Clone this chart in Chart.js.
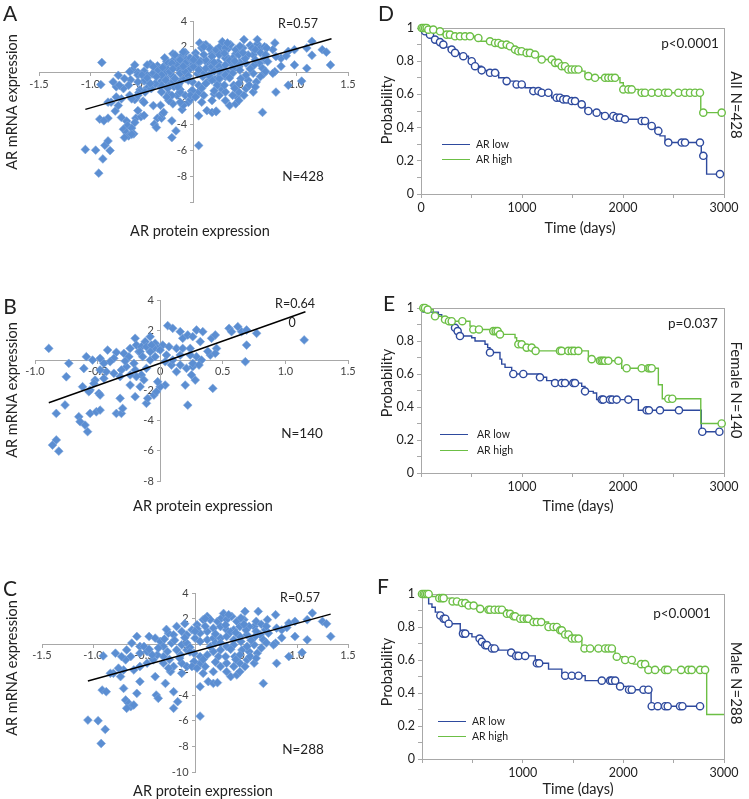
<!DOCTYPE html>
<html>
<head>
<meta charset="utf-8">
<script src="https://cdn.jsdelivr.net/npm/chart.js@4.4.0/dist/chart.umd.min.js"></script>
<style>
body { margin: 0; background: #fff; width: 749px; height: 799px; position: relative; overflow: hidden; font-family: Lato, "Open Sans", sans-serif; color: #222; }
canvas { position: absolute; }
.t { position: absolute; white-space: nowrap; transform: translate(-50%, -50%); }
.rl { transform: translate(-50%, -50%) rotate(-90deg); }
.rr { transform: translate(-50%, -50%) rotate(90deg); }
.lg { position: absolute; height: 0; border-top: 1.5px solid; width: 28px; }
.lt { position: absolute; font-size: 10.5px; transform: translateY(-50%); }
</style>
</head>
<body>
<canvas id="cA" width="375" height="260" style="left:0;top:0"></canvas>
<canvas id="cB" width="375" height="260" style="left:0;top:260px"></canvas>
<canvas id="cC" width="375" height="279" style="left:0;top:520px"></canvas>
<canvas id="cD" width="374" height="260" style="left:375px;top:0"></canvas>
<canvas id="cE" width="374" height="260" style="left:375px;top:260px"></canvas>
<canvas id="cF" width="374" height="279" style="left:375px;top:520px"></canvas>

<!-- panel letters -->
<div class="t" style="left:10px;top:12px;font-size:21px">A</div>
<div class="t" style="left:10px;top:305px;font-size:21px">B</div>
<div class="t" style="left:10px;top:587px;font-size:21px">C</div>
<div class="t" style="left:386px;top:12px;font-size:21px">D</div>
<div class="t" style="left:389px;top:302px;font-size:21px">E</div>
<div class="t" style="left:383px;top:585px;font-size:21px">F</div>

<!-- scatter texts -->
<div class="t rl" style="left:11px;top:102px;font-size:14.5px">AR mRNA expression</div>
<div class="t" style="left:200px;top:230px;font-size:14.5px">AR protein expression</div>
<div class="t" style="left:298px;top:23px;font-size:12.5px">R=0.57</div>
<div class="t" style="left:303px;top:176px;font-size:13.5px">N=428</div>

<div class="t rl" style="left:11px;top:390px;font-size:14.5px">AR mRNA expression</div>
<div class="t" style="left:203px;top:505px;font-size:14.5px">AR protein expression</div>
<div class="t" style="left:295px;top:303px;font-size:12.5px">R=0.64</div>
<div class="t" style="left:292px;top:322px;font-size:12.5px">0</div>
<div class="t" style="left:302px;top:433px;font-size:13.5px">N=140</div>

<div class="t rl" style="left:11px;top:668px;font-size:14.5px">AR mRNA expression</div>
<div class="t" style="left:203px;top:790px;font-size:14.5px">AR protein expression</div>
<div class="t" style="left:300px;top:597px;font-size:12.5px">R=0.57</div>
<div class="t" style="left:303px;top:749px;font-size:13.5px">N=288</div>

<!-- survival texts -->
<div class="t rl" style="left:386px;top:110px;font-size:14.5px">Probability</div>
<div class="t" style="left:580px;top:227px;font-size:14.5px">Time (days)</div>
<div class="t" style="left:690px;top:43px;font-size:13.5px">p&lt;0.0001</div>
<div class="t rr" style="left:737px;top:105px;font-size:15px">All N=428</div>
<div class="lg" style="left:442px;top:144px;border-color:#2e4a9e"></div>
<div class="lt" style="left:476px;top:144px">AR low</div>
<div class="lg" style="left:442px;top:159px;border-color:#6cbf45"></div>
<div class="lt" style="left:476px;top:159px">AR high</div>

<div class="t rl" style="left:386px;top:383px;font-size:14.5px">Probability</div>
<div class="t" style="left:578px;top:505px;font-size:14.5px">Time (days)</div>
<div class="t" style="left:693px;top:323px;font-size:13.5px">p=0.037</div>
<div class="t rr" style="left:737px;top:390px;font-size:15px">Female N=140</div>
<div class="lg" style="left:440px;top:434px;border-color:#2e4a9e"></div>
<div class="lt" style="left:477px;top:434px">AR low</div>
<div class="lg" style="left:440px;top:450px;border-color:#6cbf45"></div>
<div class="lt" style="left:477px;top:450px">AR high</div>

<div class="t rl" style="left:386px;top:672px;font-size:14.5px">Probability</div>
<div class="t" style="left:578px;top:788px;font-size:14.5px">Time (days)</div>
<div class="t" style="left:682px;top:613px;font-size:13.5px">p&lt;0.0001</div>
<div class="t rr" style="left:737px;top:683px;font-size:15px">Male N=288</div>
<div class="lg" style="left:438px;top:721px;border-color:#2e4a9e"></div>
<div class="lt" style="left:472px;top:721px">AR low</div>
<div class="lg" style="left:438px;top:736px;border-color:#6cbf45"></div>
<div class="lt" style="left:472px;top:736px">AR high</div>

<script>
// scatter data: female (B) and male (C); A is both groups together
var femaleX = [-0.89,-0.73,-0.75,-0.59,-0.61,-0.54,-0.48,-0.42,-0.35,-0.29,
  -0.24,-0.20,-0.17,-0.12,-0.08,-0.04,-0.02,0.02,0.06,0.10,
  0.16,0.18,0.22,0.26,0.29,0.32,0.34,0.13,0.18,0.24,
  0.29,0.33,0.40,0.41,0.44,0.45,0.44,0.42,0.22,0.55,
  0.57,0.62,0.65,0.69,0.77,0.69,0.68,1.15,-0.05,0.00,
  0.05,0.04,0.09,0.13,0.16,0.21,0.25,0.26,0.10,0.04,
  0.00,-0.02,-0.11,-0.15,-0.19,-0.21,-0.27,-0.31,-0.24,-0.32,
  -0.37,-0.43,-0.48,-0.52,-0.53,-0.56,-0.57,-0.49,-0.48,-0.32,
  -0.20,-0.11,-0.05,-0.03,-0.10,-0.16,-0.76,-0.83,-0.65,-0.64,
  -0.60,-0.58,-0.56,-0.51,-0.48,-0.35,-0.31,-0.30,-0.86,-0.83,
  -0.81,-0.19,-0.15,-0.11,-0.16,-0.07,-0.14,-0.08,-0.04,-0.08,
  -0.25,-0.37,-0.40,-0.45,-0.24,-0.20,0.24,0.16,0.20,0.28,
  0.26,0.31,-0.62,-0.45,-0.28,0.07,0.38,-0.13];
var femaleY = [0.79,-0.20,-1.09,0.24,-0.54,0.02,0.13,0.68,0.53,0.46,
  0.79,1.46,0.57,1.24,1.57,1.13,0.79,1.01,2.30,2.12,
  1.90,1.46,1.68,1.57,2.01,1.24,1.90,0.79,0.79,0.79,
  0.24,0.02,0.35,1.46,1.68,0.79,0.46,-1.86,-2.97,2.12,
  1.90,2.23,1.90,2.01,1.79,1.01,-0.09,1.35,0.79,0.68,
  0.35,-0.09,-0.31,-0.75,-0.31,-0.53,-0.97,-0.42,0.02,-1.64,
  -1.75,-1.42,-0.53,-0.97,-1.08,-0.20,-0.42,-0.64,-1.64,-1.08,
  -0.86,-0.75,-0.64,-1.31,-1.53,-1.97,-2.08,-2.19,-2.30,-2.52,
  -2.41,-2.85,-2.30,-2.08,-2.52,-1.75,-2.96,-3.52,-3.74,-4.07,
  -4.29,-4.73,-3.52,-3.41,-3.30,-3.52,-3.52,-3.19,-5.62,-5.28,
  -6.02,1.01,0.90,0.90,0.57,1.01,0.24,0.02,0.24,0.57,
  0.24,0.13,-0.09,-0.20,-0.97,-0.64,0.35,0.35,-1.64,-1.31,
  -0.20,-0.31,-1.75,-1.20,-0.05,0.90,0.60,-1.30];

var maleX = [-1.05,-0.95,-0.88,-0.92,-0.91,-0.87,-0.70,-0.68,-0.65,-0.63,
  -0.60,-0.67,-0.57,-0.54,-0.39,-0.38,-0.36,-0.29,-0.21,-0.17,
  -0.21,-0.13,0.05,0.05,0.13,0.18,0.22,0.35,0.67,0.80,
  0.92,1.05,1.10,0.98,1.33,1.25,1.29,1.15,1.10,0.98,
  0.92,0.85,0.80,0.79,0.77,0.71,0.69,0.79,0.62,0.49,
  0.58,0.64,0.58,0.53,0.61,0.51,0.44,0.38,0.31,0.41,
  0.44,0.25,0.18,0.10,0.05,-0.01,-0.08,-0.13,-0.21,-0.24,
  -0.31,-0.37,-0.41,-0.47,-0.54,-0.60,-0.70,-0.75,-0.80,-0.63,
  -0.68,-0.67,-0.62,-0.57,-0.54,-0.45,-0.39,-0.34,-0.31,-0.27,
  -0.36,-0.26,-0.21,-0.18,-0.13,-0.08,-0.03,0.02,0.08,0.12,
  0.15,0.22,0.26,0.31,0.36,0.41,0.44,0.38,0.31,0.25,
  0.18,0.12,0.05,0.00,0.05,0.12,0.18,0.25,0.31,0.38,
  0.44,0.51,0.53,0.48,0.38,0.31,0.25,0.18,0.12,0.05,
  -0.01,-0.08,-0.13,-0.08,-0.18,-0.23,-0.14,0.23,0.30,0.46,
  0.51,0.39,0.44,0.54,0.59,0.67,0.72,0.60,-0.50,-0.47,
  -0.42,-0.78,-0.90,-0.72,-0.83,-0.73,-0.54,-0.31,-0.26,-0.03,
  0.02,0.08,0.31,0.58,0.49,0.20,0.35,0.02,-0.10,0.28,
  0.45,0.65,0.70,0.90,-0.05,-0.30,-0.20,-0.10,0.00,0.10,
  0.20,0.30,0.40,0.50,0.60,0.15,0.25,0.35,0.45,0.55,
  0.65,-0.05,-0.15,0.08,0.20,0.40,0.60,-0.25,-0.45,0.70,
  0.85,0.48,0.10,-0.28,0.33];
var maleY = [-5.94,-5.99,-6.67,-7.77,-3.59,-3.72,-3.46,-4.37,-4.63,-4.89,
  -4.76,-5.02,-3.85,-2.93,-2.54,-3.98,-4.24,-3.07,-3.72,-4.50,
  -5.02,-2.28,-3.33,-5.63,-2.93,-3.07,-3.01,-2.54,-3.07,-1.50,
  -0.97,-0.65,0.34,0.60,0.60,1.78,1.59,2.43,1.91,1.78,
  1.65,1.12,1.25,0.08,-0.05,1.91,1.12,2.30,2.56,2.56,
  1.38,0.73,-0.05,-0.58,-0.71,-1.23,-1.49,-1.75,-1.49,-2.41,
  -2.15,-1.75,-2.15,-1.75,-1.49,-1.36,-1.75,-1.49,-1.75,-2.15,
  -0.97,-0.84,-1.23,-1.49,-1.75,-2.02,-2.02,-1.88,-2.28,-0.97,
  -1.23,-0.45,0.08,0.60,-0.18,0.60,0.47,0.21,-0.18,-0.58,
  -0.31,0.86,0.73,1.38,0.99,0.73,1.12,1.52,1.91,2.17,
  1.91,1.78,2.04,1.91,2.17,1.78,1.38,1.12,1.12,1.38,
  1.25,0.99,0.86,0.47,0.21,0.34,0.47,0.47,0.60,0.34,
  0.60,0.73,1.38,1.91,-0.05,-0.18,-0.45,-0.58,-0.84,-0.97,
  -0.71,-0.45,-0.05,0.08,-0.45,0.08,-0.84,-0.97,-0.97,-0.45,
  -0.18,-0.97,-0.84,-0.97,0.60,0.34,0.86,1.78,-0.18,-0.58,
  -0.84,-0.71,-0.92,-0.97,-2.28,-2.54,-0.71,-1.49,-1.88,-1.75,
  -1.88,-2.28,-2.15,-1.49,-1.75,0.10,0.95,1.20,1.60,2.40,
  2.05,1.55,0.10,1.30,-0.25,0.40,0.30,0.50,1.00,1.40,
  0.80,1.50,0.90,1.10,1.00,-0.20,0.10,-0.40,0.20,0.30,
  -0.30,-0.60,-1.10,-1.20,-1.40,-1.20,-1.10,-1.20,-0.40,1.40,
  0.50,1.55,2.00,1.15,2.30];

// fitted lines, end points
var fitAX = [-1.05, 1.34], fitAY = [-2.84, 2.63];
var fitBX = [-0.89, 1.16], fitBY = [-2.81, 3.22];
var fitCX = [-1.05, 1.33], fitCY = [-2.88, 2.35];

// survival curves: step times/values and censor times
var allLowT = [0,40,73,110,139,175,205,240,271,305,337,380,419,470,502,535,601,683,769,832,931,1030,1112,1195,1294,1393,1492,1558,1624,1723,1789,1921,2003,2185,2251,2317,2366,2416,2775,2828,2960];
var allLowS = [1,0.98,0.96,0.945,0.93,0.915,0.90,0.885,0.87,0.86,0.85,0.84,0.83,0.815,0.80,0.77,0.745,0.73,0.70,0.68,0.66,0.64,0.62,0.61,0.58,0.57,0.56,0.54,0.50,0.49,0.47,0.46,0.45,0.44,0.41,0.38,0.35,0.31,0.23,0.12,0.12];
var allLowCens = [40,89,139,188,221,304,337,419,502,535,601,683,733,848,947,997,1112,1162,1195,1261,1343,1376,1409,1442,1492,1525,1591,1657,1739,1822,1904,1937,1970,2020,2185,2218,2284,2350,2449,2581,2614,2762,2795,2960];
var allHighT = [0,70,139,205,304,535,584,700,790,865,920,964,1030,1096,1162,1327,1376,1459,1591,1624,1723,1970,2003,2152,2770,2977];
var allHighS = [1,0.99,0.98,0.96,0.95,0.94,0.92,0.91,0.90,0.89,0.87,0.86,0.85,0.84,0.81,0.79,0.77,0.75,0.74,0.71,0.70,0.67,0.63,0.61,0.49,0.49];
var allHighCens = [7,23,40,56,73,122,188,254,287,337,386,436,485,568,683,733,766,799,848,881,931,964,997,1046,1079,1129,1195,1294,1327,1360,1393,1426,1459,1492,1525,1558,1657,1723,1822,1855,1888,1921,2003,2053,2086,2185,2218,2284,2350,2416,2449,2548,2614,2663,2713,2762,2795,2977];

var femLowT = [0,20,172,205,254,287,330,355,380,502,535,634,660,683,782,799,832,898,1162,1244,1294,1591,1624,1706,1739,2152,2775,2954];
var femLowS = [1,0.975,0.96,0.94,0.92,0.90,0.88,0.86,0.83,0.82,0.80,0.78,0.76,0.73,0.69,0.66,0.64,0.60,0.58,0.56,0.545,0.525,0.495,0.485,0.445,0.38,0.25,0.25];
var femLowCens = [337,363,386,683,914,1013,1178,1327,1393,1426,1508,1525,1624,1789,1805,1871,1894,1937,2053,2234,2257,2366,2554,2785,2954];
var femHighT = [0,60,122,205,271,485,502,683,782,931,947,1000,1130,1657,1740,1987,2350,2389,2770,2977];
var femHighS = [1,0.99,0.95,0.93,0.92,0.89,0.87,0.86,0.84,0.82,0.78,0.76,0.74,0.69,0.68,0.635,0.535,0.45,0.30,0.30];
var femHighCens = [23,40,66,139,238,277,304,409,518,574,716,739,759,782,964,997,1046,1096,1135,1376,1393,1459,1492,1518,1558,1690,1772,1789,1805,1822,1855,1954,2036,2185,2251,2267,2284,2449,2488,2977];

var maleLowT = [0,66,99,132,165,200,248,380,496,562,595,628,690,761,860,926,1125,1257,1389,1422,1621,1935,2051,2276,2762];
var maleLowS = [1,0.94,0.92,0.89,0.87,0.85,0.82,0.76,0.74,0.73,0.71,0.69,0.67,0.66,0.645,0.625,0.58,0.545,0.52,0.505,0.475,0.44,0.42,0.32,0.32];
var maleLowCens = [182,215,232,265,407,430,572,595,628,645,695,721,886,936,959,1025,1141,1164,1422,1488,1555,1786,1869,1886,1919,1968,2057,2084,2200,2249,2282,2342,2415,2441,2563,2587,2762];
var maleHighT = [0,99,165,298,380,450,562,661,843,900,959,1091,1257,1356,1420,1488,1588,1918,2001,2100,2249,2828,3000];
var maleHighS = [1,0.985,0.975,0.955,0.945,0.93,0.91,0.905,0.88,0.865,0.85,0.83,0.80,0.78,0.755,0.73,0.67,0.62,0.60,0.575,0.54,0.27,0.27];
var maleHighCens = [0,17,33,50,66,172,198,215,304,347,397,430,463,513,578,661,678,721,761,794,843,876,909,926,976,1009,1042,1058,1108,1141,1184,1257,1306,1340,1373,1389,1422,1455,1488,1521,1555,1614,1670,1753,1819,1852,1886,1935,2018,2084,2177,2216,2249,2315,2415,2441,2574,2646,2679,2762,2812];

var blueKM = '#2e4a9e';
var greenKM = '#6cbf45';
var axisGrey = '#a8a8a8';

Chart.defaults.font.family = 'Lato, "Open Sans", sans-serif';
Chart.defaults.animation = false;

function pairs(xs, ys) {
  return xs.map(function (x, i) { return {x: x, y: ys[i]}; });
}

function scatterPlot(id, xs, ys, fx, fy, opts) {
  new Chart(document.getElementById(id), {
    type: 'scatter',
    data: {
      datasets: [
        { data: pairs(fx, fy), showLine: true, borderColor: '#000', borderWidth: 1.4, pointRadius: 0 },
        { data: pairs(xs, ys), pointStyle: 'rectRot', pointRadius: 4.4,
          backgroundColor: '#5b8ed2', borderColor: '#7da6dc', borderWidth: 0.6 }
      ]
    },
    options: {
      responsive: false,
      layout: { padding: opts.pad },
      plugins: { legend: { display: false }, tooltip: { enabled: false } },
      scales: {
        x: {
          type: 'linear', min: opts.xMin, max: opts.xMax, position: { y: 0 },
          grid: { drawOnChartArea: false, tickLength: 3, color: axisGrey },
          border: { color: axisGrey },
          ticks: { stepSize: 0.5, autoSkip: false, maxRotation: 0, color: '#444', font: { size: 11 }, padding: 2,
            callback: function (v) { if (v === 0) return opts.xZero ? '0' : ''; return v.toFixed(1); } }
        },
        y: {
          type: 'linear', min: opts.yMin, max: 4, position: { x: 0 },
          grid: { drawOnChartArea: false, tickLength: 3, color: axisGrey },
          border: { color: axisGrey },
          ticks: { stepSize: 2, color: '#444', font: { size: 11 },
            callback: function (v) {
              // a figure space keeps the right-aligned labels off the axis line
              if (v === 0 && opts.xZero) return '';
              if (v === -10 && !opts.yTen) return '';
              return v + '\u2007';
            } }
        }
      }
    }
  });
}

function survAt(ts, ss, t) {
  var s = ss[0];
  for (var i = 0; i < ts.length; i++) { if (ts[i] <= t) s = ss[i]; }
  return s;
}

function censorPoints(ts, ss, cens) {
  return cens.map(function (t) { return {x: t, y: survAt(ts, ss, t)}; });
}

var boxPlugin = {
  id: 'box',
  beforeDatasetsDraw: function (chart) {
    var a = chart.chartArea, ctx = chart.ctx;
    ctx.save();
    ctx.strokeStyle = axisGrey;
    ctx.lineWidth = 1;
    ctx.strokeRect(a.left + 0.5, a.top + 0.5, a.right - a.left, a.bottom - a.top);
    ctx.restore();
  }
};

function kmPlot(id, lowT, lowS, lowC, highT, highS, highC, pad, xZero) {
  var circle = { showLine: false, pointStyle: 'circle', pointRadius: 3.6, borderWidth: 1.4, backgroundColor: '#fff', clip: false };
  new Chart(document.getElementById(id), {
    type: 'scatter',
    data: {
      datasets: [
        Object.assign({ data: censorPoints(highT, highS, highC), borderColor: greenKM }, circle),
        Object.assign({ data: censorPoints(lowT, lowS, lowC), borderColor: blueKM }, circle),
        { data: pairs(highT, highS), showLine: true, stepped: 'before', borderColor: greenKM, borderWidth: 1.4, pointRadius: 0 },
        { data: pairs(lowT, lowS), showLine: true, stepped: 'before', borderColor: blueKM, borderWidth: 1.4, pointRadius: 0 }
      ]
    },
    options: {
      responsive: false,
      layout: { padding: pad },
      plugins: { legend: { display: false }, tooltip: { enabled: false } },
      scales: {
        x: {
          type: 'linear', min: 0, max: 3000,
          afterFit: function (s) { s.height = 25; },
          grid: { drawOnChartArea: false, tickLength: 4, color: axisGrey },
          border: { color: axisGrey },
          ticks: { stepSize: 500, autoSkip: false, maxRotation: 0, color: '#222', font: { size: 12.5 }, padding: 2,
            callback: function (v) {
              if (v % 1000 !== 0) return '';
              if (v === 0 && !xZero) return '';
              return String(v);
            } }
        },
        y: {
          type: 'linear', min: 0, max: 1,
          afterFit: function (s) { s.width = 30; },
          grid: { drawOnChartArea: false, tickLength: 4, color: axisGrey },
          border: { color: axisGrey },
          ticks: { stepSize: 0.1, autoSkip: false, color: '#222', font: { size: 12.5 }, padding: 3,
            callback: function (v) {
              var k = Math.round(v * 10);
              if (k % 2 !== 0) return '';
              if (k === 0) return '0';
              if (k === 10) return '1';
              return (k / 10).toFixed(1);
            } }
        }
      }
    },
    plugins: [boxPlugin]
  });
}

scatterPlot('cA', femaleX.concat(maleX), femaleY.concat(maleY), fitAX, fitAY,
  { xMin: -1.5, xMax: 1.5, yMin: -10, pad: { left: 39, right: 27, top: 21, bottom: 58 } });
scatterPlot('cB', femaleX, femaleY, fitBX, fitBY,
  { xMin: -1.0, xMax: 1.5, yMin: -8, xZero: true, pad: { left: 35, right: 27, top: 40, bottom: 39 } });
scatterPlot('cC', maleX, maleY, fitCX, fitCY,
  { xMin: -1.5, xMax: 1.5, yMin: -10, yTen: true, pad: { left: 42, right: 27, top: 73, bottom: 27 } });

kmPlot('cD', allLowT, allLowS, allLowCens, allHighT, allHighS, allHighCens,
  { left: 16, right: 25, top: 28, bottom: 41 }, true);
kmPlot('cE', femLowT, femLowS, femLowCens, femHighT, femHighS, femHighCens,
  { left: 16, right: 25, top: 48, bottom: 22 }, false);
kmPlot('cF', maleLowT, maleLowS, maleLowCens, maleHighT, maleHighS, maleHighCens,
  { left: 17, right: 25, top: 74, bottom: 15 }, false);
</script>
</body>
</html>
